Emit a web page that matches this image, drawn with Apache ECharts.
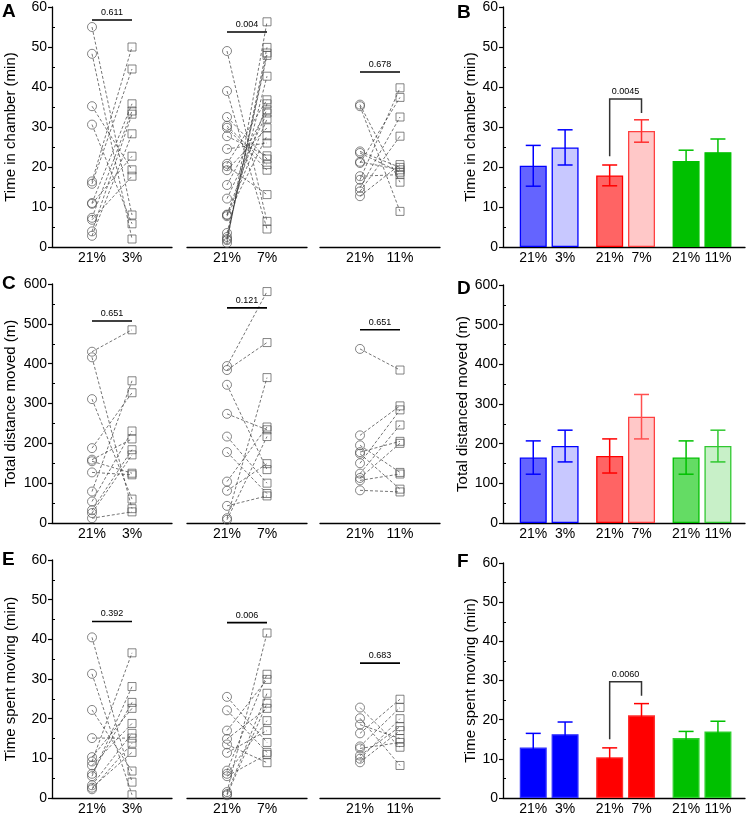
<!DOCTYPE html>
<html><head><meta charset="utf-8">
<script src="https://cdn.jsdelivr.net/npm/echarts@6/dist/echarts.min.js"></script>
<style>html,body{margin:0;padding:0;background:#fff}#c{width:746px;height:816px}</style>
</head><body><div id="c"></div>
<script>
// ---------- DATA ----------
const groupLabels = [['21%', '3%'], ['21%', '7%'], ['21%', '11%']];
const barLabels = ['21%', '3%', '21%', '7%', '21%', '11%'];

// Panel A: time in chamber (min), paired 21% -> hypoxia
const A1_pre = [55, 48.3, 35.2, 30.6, 16.4, 15.8, 11, 10.8, 7.3, 6.8, 3.9, 2.8];
const A1_post = [8, 2, 19.3, 5.8, 50, 44.5, 35.8, 22.7, 34, 17.7, 33.2, 28.3];
const A2_pre = [49, 39, 32.5, 30.3, 29.8, 27.7, 24.5, 20.8, 20.2, 19.2, 15.5, 12.1, 8.1, 8.0, 7.7, 3.5, 2.5, 2.0, 1.7, 1.0];
const A2_post = [6.4, 4.5, 22, 20.6, 19.2, 22.8, 26, 36.8, 13.1, 29.8, 34.3, 33.5, 35.8, 32, 27.8, 42.7, 47.9, 48.5, 49.9, 56.3];
const A3_pre = [35.6, 35.2, 23.9, 23.5, 21.3, 21, 17.7, 16.8, 14.8, 13.9, 12.7];
const A3_post = [16.2, 8.9, 19.9, 18.7, 19.3, 37.4, 18.1, 39.8, 32.5, 27.7, 20.6];
const A_p = ['0.611', '0.004', '0.678'];

// Panel C: total distance moved (m)
const C1_pre = [430, 416, 311, 188, 159, 155, 127, 79, 54, 32, 25, 12];
const C1_post = [485, 36, 60, 327, 211, 125, 121, 357, 231, 184, 171, 28];
const C2_pre = [394, 384, 347, 274, 217, 178, 104, 81, 43, 12, 8];
const C2_post = [581, 453, 134, 234, 100, 74, 241, 149, 68, 365, 217];
const C3_pre = [437, 220, 195, 178, 174, 150, 124, 113, 107, 82];
const C3_post = [384, 294, 127, 205, 85, 284, 246, 200, 123, 78];
const C_p = ['0.651', '0.121', '0.651'];

// Panel E: time spent moving (min)
const E1_pre = [40.5, 31.3, 22.2, 15.1, 10.3, 9.2, 8.2, 6.1, 5.5, 3.2, 2.6, 2.2];
const E1_post = [4.0, 0.8, 6.8, 15.1, 22.6, 36.6, 18.8, 24.1, 28.1, 16.3, 11.5, 13.8];
const E2_pre = [25.5, 22.1, 17, 14.9, 13.5, 11.4, 6.9, 6.1, 5.5, 1.5, 1.0, 0.7];
const E2_post = [14, 11.5, 29.9, 22.6, 8.9, 17, 31.2, 19.5, 11, 41.6, 26.4, 23.9];
const E3_pre = [22.8, 20.1, 18.5, 16.3, 13, 12.5, 10.7, 9.9, 9.0];
const E3_post = [12.8, 8.2, 15, 24.9, 22.8, 14, 18, 20, 17];
const E_p = ['0.392', '0.006', '0.683'];

// Bar panels: mean and SEM, order 21%/3%, 21%/7%, 21%/11%
const B_mean = [20.3, 24.9, 17.9, 29.0, 21.5, 23.7];
const B_sem = [5.1, 4.4, 2.6, 2.8, 2.7, 3.3];
const D_mean = [165, 194, 169, 268, 165, 194];
const D_sem = [42, 40, 43, 56, 42, 40];
const F_mean = [12.9, 16.3, 10.4, 21.1, 15.3, 17.0];
const F_sem = [3.6, 3.1, 2.4, 3.0, 1.7, 2.6];
const B_p = '0.0045';
const F_p = '0.0060';

// ---------- LAYOUT / STYLE ----------
const FONT = 'Liberation Sans, Arial, sans-serif';
const leftX = [52, 187, 320];
const segW = 120;
const barPos = [0.95, 1.95, 3.35, 4.35, 5.75, 6.75];

const grids = [], xAxes = [], yAxes = [], series = [];

function yAxisMain(gi, max, interval, show, name) {
  return {
    gridIndex: gi, type: 'value', min: 0, max: max, interval: interval, show: show,
    axisLine: { show: true, lineStyle: { color: '#000', width: 1.3 } },
    axisTick: { show: true, length: 4, lineStyle: { color: '#000', width: 1.2 } },
    axisLabel: { fontSize: 14, color: '#000', margin: 5, fontFamily: FONT },
    splitLine: { show: false },
    name: name, nameLocation: 'middle', nameGap: show ? 34 : 0,
    nameTextStyle: { fontSize: 15, color: '#000', fontFamily: FONT }
  };
}
function yAxisMinor(gi, max, interval) {
  return {
    gridIndex: gi, type: 'value', min: 0, max: max, interval: interval, position: 'left',
    axisLine: { show: false }, axisTick: { show: false, inside: true },
    minorTick: { show: true, splitNumber: 2, length: 3, lineStyle: { color: '#000', width: 1 } },
    axisLabel: { show: false }, splitLine: { show: false }
  };
}

function pairedPanel(top, height, max, interval, name, groups, pvals, bracketY) {
  groups.forEach((grp, g) => {
    const gi = grids.length;
    grids.push({ left: leftX[g], top: top, width: segW, height: height, containLabel: false });
    const xi = xAxes.length;
    xAxes.push({
      gridIndex: gi, type: 'value', min: 0, max: 3, interval: 1,
      axisLine: { show: true, onZero: false, lineStyle: { color: '#000', width: 1.3 } },
      axisTick: { show: false }, splitLine: { show: false },
      axisLabel: {
        fontSize: 14, color: '#000', margin: 4, fontFamily: FONT,
        formatter: v => (v === 1 ? groupLabels[g][0] : v === 2 ? groupLabels[g][1] : '')
      }
    });
    const yi = yAxes.length;
    yAxes.push(yAxisMain(gi, max, interval, g === 0, g === 0 ? name : ''));
    if (g === 0) yAxes.push(yAxisMinor(gi, max, interval));
    const pre = grp[0], post = grp[1];
    pre.forEach((v, i) => {
      series.push({
        type: 'line', xAxisIndex: xi, yAxisIndex: yi, silent: true, animation: false,
        symbol: 'none', data: [[1, v], [2, post[i]]],
        lineStyle: { color: '#3a3a3a', width: 0.7, type: [3, 2] }, z: 2
      });
    });
    series.push({
      type: 'scatter', xAxisIndex: xi, yAxisIndex: yi, silent: true, animation: false,
      symbol: 'circle', symbolSize: 9, data: pre.map(v => [1, v]),
      itemStyle: { color: 'rgba(255,255,255,0)', borderColor: '#555', borderWidth: 0.9 }, z: 3
    });
    series.push({
      type: 'scatter', xAxisIndex: xi, yAxisIndex: yi, silent: true, animation: false,
      symbol: 'rect', symbolSize: 8, data: post.map(v => [2, v]),
      itemStyle: { color: 'rgba(255,255,255,0)', borderColor: '#555', borderWidth: 0.9 }, z: 3
    });
    series.push({
      type: 'custom', xAxisIndex: xi, yAxisIndex: yi, silent: true, animation: false, clip: false,
      data: [[1.5, bracketY[g]]],
      renderItem: (params, api) => {
        const p1 = api.coord([1, api.value(1)]);
        const p2 = api.coord([2, api.value(1)]);
        return {
          type: 'group', children: [
            { type: 'line', shape: { x1: p1[0], y1: p1[1], x2: p2[0], y2: p2[1] }, style: { stroke: '#000', lineWidth: 1.6 } },
            { type: 'text', x: (p1[0] + p2[0]) / 2, y: p1[1] - 3, style: { text: pvals[g], fill: '#000', font: '9px ' + FONT, align: 'center', verticalAlign: 'bottom' } }
          ]
        };
      }, z: 4
    });
  });
}

function barPanel(top, height, max, interval, name, means, sems, fills, borders, errColors, bracket) {
  const gi = grids.length;
  grids.push({ left: 503, top: top, width: 242, height: height });
  const xi = xAxes.length;
  xAxes.push({
    gridIndex: gi, type: 'value', min: 0, max: 7.6,
    axisLine: { show: true, onZero: false, lineStyle: { color: '#000', width: 1.3 } },
    axisTick: { show: false }, splitLine: { show: false },
    axisLabel: {
      customValues: barPos, fontSize: 14, color: '#000', margin: 4, fontFamily: FONT,
      formatter: v => { let k = 0, d = 1e9; barPos.forEach((p, i) => { if (Math.abs(p - v) < d) { d = Math.abs(p - v); k = i; } }); return barLabels[k]; }
    }
  });
  const yi = yAxes.length;
  const ya = yAxisMain(gi, max, interval, true, name);
  ya.nameGap = 21;
  yAxes.push(ya);
  yAxes.push(yAxisMinor(gi, max, interval));
  series.push({
    type: 'bar', xAxisIndex: xi, yAxisIndex: yi, silent: true, animation: false, barWidth: 27,
    data: means.map((m, i) => ({ value: [barPos[i], m], itemStyle: { color: fills[i], borderColor: borders[i], borderWidth: 1.3 } })),
    z: 2
  });
  series.push({
    type: 'custom', xAxisIndex: xi, yAxisIndex: yi, silent: true, animation: false, clip: false,
    data: means.map((m, i) => [barPos[i], m, sems[i]]),
    renderItem: (params, api) => {
      const x = api.value(0), m = api.value(1), e = api.value(2);
      const t = api.coord([x, m + e]), b = api.coord([x, m - e]);
      const c = errColors[params.dataIndex];
      const st = { stroke: c, lineWidth: 1.5 };
      return {
        type: 'group', children: [
          { type: 'line', shape: { x1: t[0], y1: t[1], x2: b[0], y2: b[1] }, style: st },
          { type: 'line', shape: { x1: t[0] - 7.5, y1: t[1], x2: t[0] + 7.5, y2: t[1] }, style: st },
          { type: 'line', shape: { x1: b[0] - 7.5, y1: b[1], x2: b[0] + 7.5, y2: b[1] }, style: st }
        ]
      };
    }, z: 3
  });
  if (bracket) {
    series.push({
      type: 'custom', xAxisIndex: xi, yAxisIndex: yi, silent: true, animation: false, clip: false,
      data: [[barPos[2], bracket.yL, bracket.yTop, bracket.yR]],
      renderItem: (params, api) => {
        const a = api.coord([barPos[2], api.value(1)]);
        const b = api.coord([barPos[2], api.value(2)]);
        const c = api.coord([barPos[3], api.value(2)]);
        const d = api.coord([barPos[3], api.value(3)]);
        return {
          type: 'group', children: [
            { type: 'polyline', shape: { points: [a, b, c, d] }, style: { stroke: '#333', lineWidth: 1.5, fill: null } },
            { type: 'text', x: (b[0] + c[0]) / 2, y: b[1] - 3, style: { text: bracket.text, fill: '#000', font: '9px ' + FONT, align: 'center', verticalAlign: 'bottom' } }
          ]
        };
      }, z: 4
    });
  }
}

pairedPanel(7, 240, 60, 10, 'Time in chamber (min)',
  [[A1_pre, A1_post], [A2_pre, A2_post], [A3_pre, A3_post]], A_p, [56.75, 53.75, 43.75]);
pairedPanel(284, 239, 600, 100, 'Total distance moved (m)',
  [[C1_pre, C1_post], [C2_pre, C2_post], [C3_pre, C3_post]], C_p, [507, 540, 485]);
pairedPanel(560, 239, 60, 10, 'Time spent moving (min)',
  [[E1_pre, E1_post], [E2_pre, E2_post], [E3_pre, E3_post]], E_p, [44.5, 44.2, 34]);

const BLUE = '#0000ff', RED = '#ff0000', GREEN = '#00c000';
barPanel(7, 240, 60, 10, 'Time in chamber (min)', B_mean, B_sem,
  ['#6464ff', '#c8c8ff', '#ff6464', '#ffc8c8', '#00c000', '#00c000'],
  [BLUE, BLUE, RED, '#ff4040', GREEN, GREEN],
  [BLUE, BLUE, RED, '#ff3030', GREEN, GREEN],
  { yL: 22.7, yTop: 37, yR: 33.5, text: B_p });
barPanel(285, 238, 600, 100, 'Total distanced moved (m)', D_mean, D_sem,
  ['#6464ff', '#c8c8ff', '#ff6464', '#ffc8c8', '#64dc64', '#c8f0c8'],
  [BLUE, BLUE, RED, '#ff4040', GREEN, '#30c830'],
  [BLUE, BLUE, RED, '#ff5050', GREEN, '#30c830'], null);
barPanel(563, 239, 60, 10, 'Time spent moving (min)', F_mean, F_sem,
  [BLUE, BLUE, RED, RED, GREEN, GREEN],
  ['#3030ff', '#3030ff', '#ff3030', '#ff3030', '#30d030', '#30d030'],
  [BLUE, BLUE, RED, RED, GREEN, GREEN],
  { yL: 15, yTop: 29.7, yR: 26.1, text: F_p });

const letters = [['A', 2, 2], ['B', 457, 3], ['C', 2, 274], ['D', 457, 279], ['E', 2, 550], ['F', 457, 552]];

const chart = echarts.init(document.getElementById('c'), null, { renderer: 'canvas' });
chart.setOption({
  animation: false,
  backgroundColor: '#fff',
  textStyle: { fontFamily: FONT },
  grid: grids, xAxis: xAxes, yAxis: yAxes, series: series,
  graphic: letters.map(l => ({
    type: 'text', left: l[1], top: l[2],
    style: { text: l[0], fill: '#000', font: 'bold 19px ' + FONT }
  }))
});
</script></body></html>
